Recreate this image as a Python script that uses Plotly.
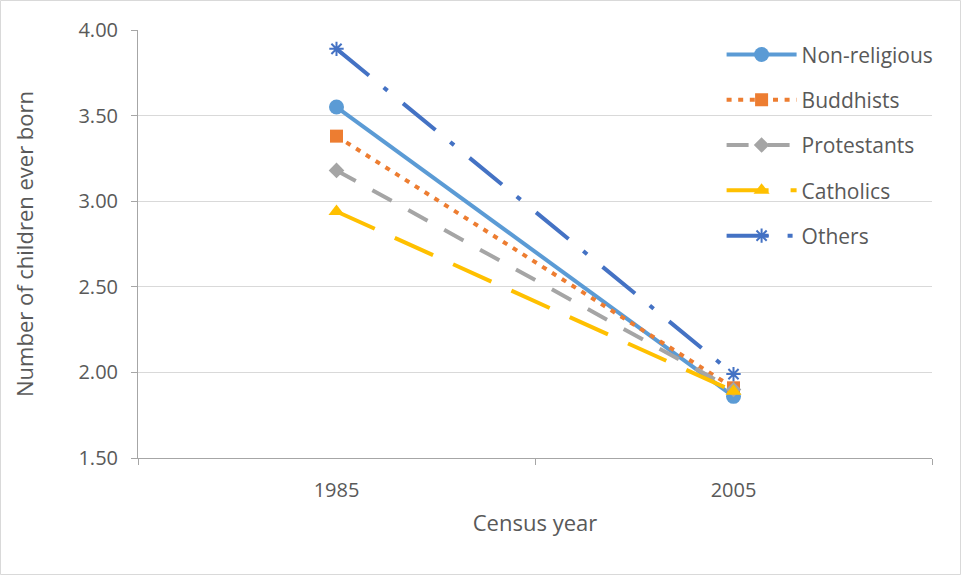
import plotly.graph_objects as go

# Census years and mean number of children ever born, by religion
years = ["1985", "2005"]
non_religious = [3.55, 1.86]
buddhists = [3.38, 1.91]
protestants = [3.18, 1.90]
catholics = [2.94, 1.89]
others = [3.89, 1.99]

y_ticks = [1.5, 2.0, 2.5, 3.0, 3.5, 4.0]

W, H = 961, 575
ML, MR, MT, MB = 138, 29, 30, 117
FONT = "Open Sans"
TXT = "#595959"

series = [
    ("Non-religious", non_religious, "#5B9BD5", "solid", "circle", 15),
    ("Buddhists", buddhists, "#ED7D31", "5px,6.6px", "square", 13),
    ("Protestants", protestants, "#A5A5A5", "22px,19px", "diamond", 12),
    ("Catholics", catholics, "#FFC000", "42px,22px", "triangle-up", 14),
    ("Others", others, "#4472C4", "42px,19px,5px,20px", "asterisk-open", 12),
]

fig = go.Figure()
for i, (name, vals, color, dash, symbol, size) in enumerate(series):
    fig.add_trace(go.Scatter(
        x=years, y=vals, name=name, mode="lines+markers",
        legendgroup=f"g{i}",
        line=dict(color=color, width=4, dash=dash),
        marker=dict(symbol=symbol, size=size, color=color,
                    line=dict(color=color, width=2 if symbol == "asterisk-open" else 0)),
    ))

pw = W - ML - MR
ph = H - MT - MB

fig.update_layout(
    width=W, height=H,
    margin=dict(l=ML, r=MR, t=MT, b=MB),
    paper_bgcolor="white", plot_bgcolor="white",
    font=dict(family=FONT, size=20, color=TXT),
    showlegend=True,
    legend=dict(
        x=0.735, y=0.99, xanchor="left", yanchor="top",
        bgcolor="rgba(0,0,0,0)", traceorder="grouped", tracegroupgap=15,
        itemwidth=70, font=dict(family=FONT, size=21, color=TXT),
    ),
    xaxis=dict(
        type="category", range=[-0.5, 1.5], tickson="boundaries",
        showline=True, linecolor="#A6A6A6", linewidth=1,
        ticks="outside", ticklen=6, tickcolor="#A6A6A6",
        showgrid=False, zeroline=False, ticklabelstandoff=14,
        tickfont=dict(family=FONT, size=20, color=TXT),
        title=dict(text="Census year", font=dict(family=FONT, size=22, color=TXT), standoff=13),
    ),
    yaxis=dict(
        range=[1.5, 4.0], tickvals=y_ticks, tickformat=".2f",
        showline=True, linecolor="#A6A6A6", linewidth=1,
        ticks="outside", ticklen=6, tickcolor="#A6A6A6",
        showgrid=True, gridcolor="#D9D9D9", gridwidth=1, zeroline=False,
        ticklabelstandoff=9,
        tickfont=dict(family=FONT, size=20, color=TXT),
        title=dict(text="Number of children ever born", font=dict(family=FONT, size=22, color=TXT), standoff=38),
    ),
    shapes=[dict(
        type="rect", xref="paper", yref="paper",
        x0=(0.5 - ML) / pw, x1=(W - 0.5 - ML) / pw,
        y0=-(MB - 0.5) / ph, y1=1 + (MT - 0.5) / ph,
        line=dict(color="#D9D9D9", width=1), fillcolor="rgba(0,0,0,0)", layer="below",
    )],
)

fig.write_html("out.html")
